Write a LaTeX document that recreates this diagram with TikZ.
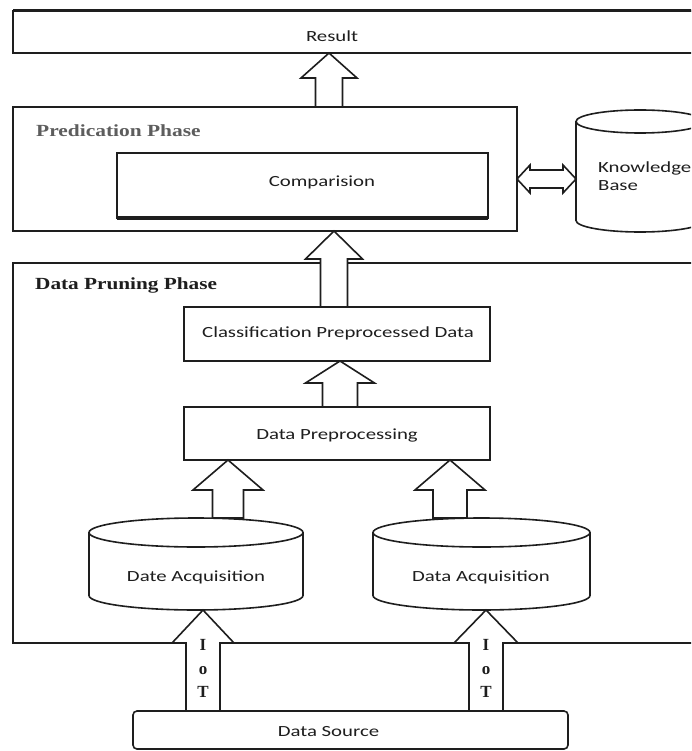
\documentclass[tikz,border=0pt]{standalone}
\usepackage{fontspec}
\usepackage{graphicx}
\setmainfont{Carlito}
\newfontfamily\hdfont{Liberation Serif}
\usetikzlibrary{calc}

\definecolor{ink}{HTML}{1E1E1E}
\tikzset{
  line/.style={draw=ink, line width=1.6pt},
  box/.style={line, fill=white, rectangle, inner sep=0pt, outer sep=0pt, anchor=north west},
  area/.style={rectangle, inner sep=0pt, outer sep=0pt, anchor=north west},
  lbl/.style={font=\fontsize{15.5}{18}\selectfont, text=ink, inner sep=0pt},
  hdr/.style={font=\hdfont\bfseries\fontsize{17}{19}\selectfont, inner sep=0pt, anchor=west},
  iot/.style={font=\hdfont\bfseries\fontsize{17}{19}\selectfont, text=ink, inner sep=0pt},
  blk/.style={line, fill=white, line join=miter},
}
\newcommand{\sx}[1]{\scalebox{1.34}[1]{#1}}
% tip, base, shaft half width, head half width, head length
\newcommand{\blkarrow}[5]{%
  \draw[blk] let \p1=(#1), \p2=(#2) in
    (\x1-#3pt,\y2) -- (\x1-#3pt,\y1-#5pt) -- (\x1-#4pt,\y1-#5pt) -- (\x1,\y1)
    -- (\x1+#4pt,\y1-#5pt) -- (\x1+#3pt,\y1-#5pt) -- (\x1+#3pt,\y2) -- cycle;}
% cx, top, bottom, rx, ry
\newcommand{\cylshape}[5]{%
  \draw[line, fill=white] ({#1-#4},{#2+#5}) -- ({#1-#4},{#3-#5})
    .. controls ({#1-#4},{#3-#5+0.552*#5}) and ({#1-0.552*#4},{#3}) .. ({#1},{#3})
    .. controls ({#1+0.552*#4},{#3}) and ({#1+#4},{#3-#5+0.552*#5}) .. ({#1+#4},{#3-#5})
    -- ({#1+#4},{#2+#5});
  \draw[line] ({#1-#4},{#2+#5})
    .. controls ({#1-#4},{#2+#5-0.552*#5}) and ({#1-0.552*#4},{#2}) .. ({#1},{#2})
    .. controls ({#1+0.552*#4},{#2}) and ({#1+#4},{#2+#5-0.552*#5}) .. ({#1+#4},{#2+#5})
    .. controls ({#1+#4},{#2+#5+0.552*#5}) and ({#1+0.552*#4},{#2+2*#5}) .. ({#1},{#2+2*#5})
    .. controls ({#1-0.552*#4},{#2+2*#5}) and ({#1-#4},{#2+#5+0.552*#5}) .. ({#1-#4},{#2+#5})
    -- cycle;}

\begin{document}
\begin{tikzpicture}[x=1pt, y=-1pt]
\useasboundingbox (0,0) rectangle (691,751);
\clip (0,0) rectangle (691,751);
\fill[white] (0,0) rectangle (691,751);

% outer boxes
\node[box, minimum width=700pt, minimum height=42pt] (res) at (13,11) {};
\draw[ink, line width=3pt] (res.north west) -- (res.north east);
\node[lbl] (restext) at (332,36) {\sx{Result}};

\node[box, minimum width=504pt, minimum height=124pt] (pp) at (13,107) {};
\node[hdr, text=ink!72] (pphead) at (36,131) {\scalebox{1.26}[1]{Predication Phase}};

\node[box, minimum width=371pt, minimum height=65pt] (cmp) at (117,153) {};
\draw[ink, line width=3.2pt] (cmp.south west) -- (cmp.south east);
\node[lbl] (cmptext) at (322,182) {\sx{Comparision}};

\node[box, minimum width=700pt, minimum height=380pt] (dp) at (13,263) {};
\node[hdr, text=ink] (dphead) at (35,285) {\scalebox{1.25}[1]{Data Pruning Phase}};

\node[box, minimum width=306pt, minimum height=54pt] (cls) at (184,307) {};
\node[lbl] (clstext) at (338,333) {\sx{Classification Preprocessed Data}};

\node[box, minimum width=306pt, minimum height=53pt] (dpre) at (184,407) {};
\node[lbl] (dpretext) at (337,435) {\sx{Data Preprocessing}};

% cylinders
\cylshape{640}{110}{232}{64}{11.5}
\node[area, minimum width=128pt, minimum height=122pt] (kb) at (576,110) {};
\node[lbl, anchor=west, align=left] (kbtext) at (598,176) {\sx{Knowledge}\\\sx{Base}};

\cylshape{196}{518}{610}{107}{14.5}
\node[area, minimum width=214pt, minimum height=92pt] (da1) at (89,518) {};
\node[lbl] (da1text) at (196,577) {\sx{Date Acquisition}};

\cylshape{481.5}{518}{610}{108.5}{14.5}
\node[area, minimum width=217pt, minimum height=92pt] (da2) at (373,518) {};
\node[lbl] (da2text) at (481,577) {\sx{Data Acquisition}};

% data source
\node[box, rounded corners=4pt, minimum width=435pt, minimum height=38pt] (ds) at (133,711) {};
\node[lbl] (dstext) at (328.5,732) {\sx{Data Source}};

% block arrows
\blkarrow{329,0 |- res.south}{329,0 |- pp.north}{13.5}{28}{25}
\blkarrow{334,0 |- pp.south}{334,0 |- cls.north}{13.5}{28.5}{28}
\blkarrow{340,0 |- cls.south}{340,0 |- dpre.north}{17.5}{34.5}{22}
\blkarrow{228,0 |- dpre.south}{228,0 |- da1.north}{15.5}{35}{30}
\blkarrow{450,0 |- dpre.south}{450,0 |- da2.north}{17}{35}{30}
\blkarrow{203,0 |- da1.south}{203,0 |- ds.north}{17}{31}{33}
\blkarrow{486,0 |- da2.south}{486,0 |- ds.north}{17}{32}{33}

% double arrow
\coordinate (dl) at (pp.east |- 0,179);
\coordinate (dr) at (kb.west |- 0,179);
\draw[blk] let \p1=(dl), \p2=(dr) in
  (\x1,\y1) -- (\x1+13pt,\y1+14pt) -- (\x1+13pt,\y1+9pt) -- (\x2-13pt,\y1+9pt)
  -- (\x2-13pt,\y1+14pt) -- (\x2,\y1) -- (\x2-13pt,\y1-14pt) -- (\x2-13pt,\y1-9pt)
  -- (\x1+13pt,\y1-9pt) -- (\x1+13pt,\y1-14pt) -- cycle;

% IoT letters
\node[iot] (i1) at (203,645) {I};
\node[iot] (o1) at (203,671) {o};
\node[iot] (t1) at (203,692) {T};
\node[iot] (i2) at (486,645) {I};
\node[iot] (o2) at (486,671) {o};
\node[iot] (t2) at (486,692) {T};
\end{tikzpicture}
\end{document}
